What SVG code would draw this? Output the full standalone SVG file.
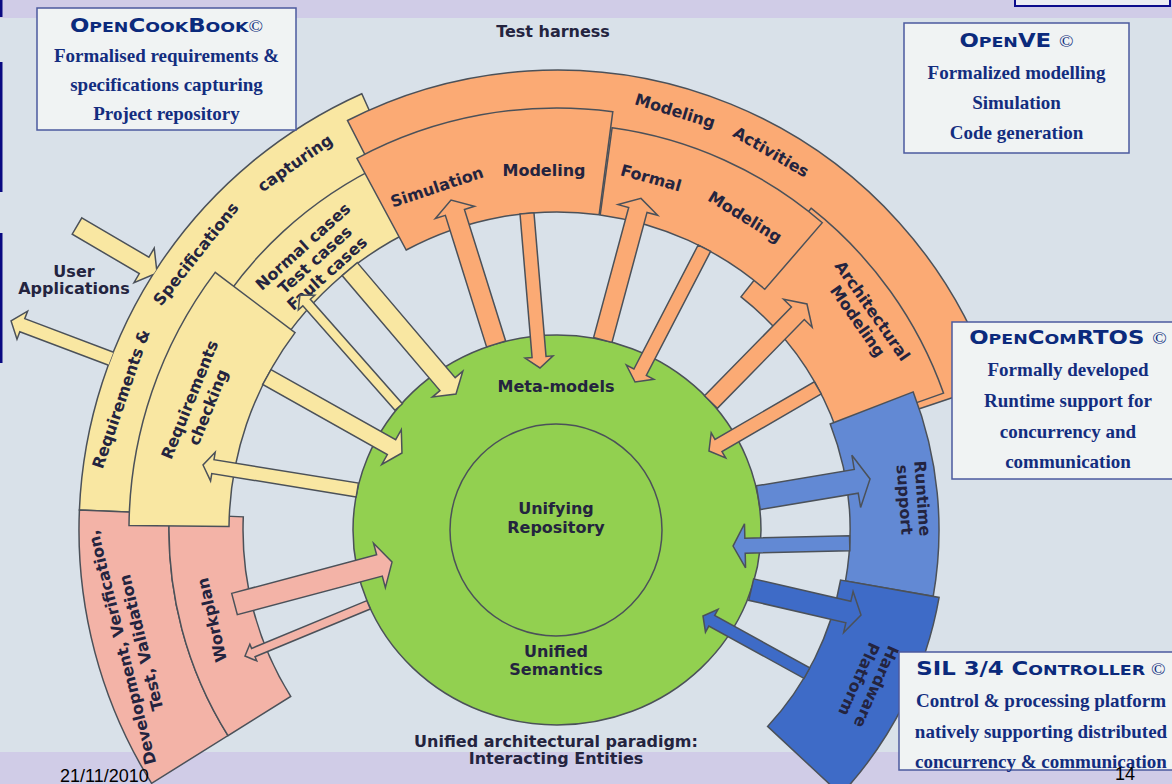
<svg xmlns="http://www.w3.org/2000/svg" width="1172" height="784" viewBox="0 0 1172 784">
<defs>
<style>
.ring{stroke:#4B5159;stroke-width:1.5;stroke-linejoin:miter}
.y{fill:#F9E7A2}.o{fill:#FBAA74}.p{fill:#F3B3A7}.b1{fill:#6289D4}.b2{fill:#3E6BC7}
.lbl{font-family:"DejaVu Sans",Verdana,sans-serif;font-weight:bold;font-size:16px;fill:#24243F;text-anchor:middle}
.arr{stroke:#4B5159;stroke-width:1.5;stroke-linejoin:miter}
.box{fill:#F0F3F3;stroke:#4B5A9E;stroke-width:1.5}
.ttl{font-family:"DejaVu Sans",Verdana,sans-serif;font-weight:bold;fill:#0B2A7C;text-anchor:middle}
.cp{font-family:"Liberation Serif",serif;font-weight:normal}
.bt{font-family:"Liberation Serif","Times New Roman",serif;font-weight:bold;font-size:19px;fill:#132D7F;text-anchor:middle}
.ft{font-family:"Liberation Sans",Arial,sans-serif;font-size:18px;fill:#000}
</style>
<clipPath id="outside-ring">
<path clip-rule="evenodd" d="M0,0H1172V784H0Z M79,530a478,478 0 1,0 956,0a478,478 0 1,0 -956,0Z"/>
</clipPath>
</defs>

<!-- slide background -->
<rect width="1172" height="784" fill="#D9E1E9"/>
<rect width="1172" height="18" fill="#D0CCE7"/>
<rect y="752" width="1172" height="32" fill="#D0CCE7"/>
<rect x="0" y="0" width="2.5" height="17" fill="#0A0A82"/>
<rect x="0" y="62" width="2.5" height="130" fill="#0A0A82"/>
<rect x="0" y="233" width="2.5" height="130" fill="#0A0A82"/>
<rect x="1015" y="-8" width="155" height="14" fill="#ECEEF3" stroke="#0C0C8C" stroke-width="2"/>

<!-- ring segments -->
<g id="req-spec-capturing">
<path class="ring y" d="M79.4,510 A478,478 0 0 1 361.8,93.7 L418.2,219.6 A340,340 0 0 0 217.3,515.8 Z"/>
<text class="lbl" transform="translate(121,399) rotate(-71)" y="5.5">Requirements &amp;</text>
<text class="lbl" transform="translate(196,254) rotate(-51.5)" y="5.5">Specifications</text>
<text class="lbl" transform="translate(295,163) rotate(-35)" y="5.5">capturing</text>
</g>
<g id="dev-verification">
<path class="ring p" d="M151.6,783.3 A478,478 0 0 1 79.4,510 L169.3,513.75 A388,388 0 0 0 228,735.6 Z"/>
<text class="lbl" transform="translate(131.5,645) rotate(-104)"><tspan x="0" y="-4.5">Development, Verification,</tspan><tspan x="0" y="15.5">Test, Validation</tspan></text>
</g>
<g id="workplan">
<path class="ring p" d="M228,735.6 A388,388 0 0 1 169.3,513.75 L243.3,516.85 A314,314 0 0 0 290.7,696.4 Z"/>
<text class="lbl" transform="translate(212,620) rotate(-103)" y="5.5">Workplan</text>
</g>
<g id="test-cases">
<path class="ring y" d="M206.3,327.5 A405,405 0 0 1 385.8,162.9 L416.3,228.2 A333,333 0 0 0 268.6,363.5 Z"/>
<text class="lbl" transform="translate(315,260) rotate(-42)"><tspan x="0" y="-12.5">Normal cases</tspan><tspan x="0" y="5.5">Test cases</tspan><tspan x="0" y="23.5">Fault cases</tspan></text>
</g>
<g id="req-checking">
<path class="ring y" d="M129,525.5 A428,428 0 0 1 215.2,272.4 L295.05,332.6 A328,328 0 0 0 229,526.6 Z"/>
<text class="lbl" transform="translate(199,403.5) rotate(-68)"><tspan x="0" y="-4.5">Requirements</tspan><tspan x="0" y="15.5">checking</tspan></text>
</g>
<g id="modeling-activities">
<path class="ring o" d="M347.5,120.5 A460,460 0 0 1 993.2,384 L860.5,428.5 A320,320 0 0 0 411.2,245.1 Z"/>
<text class="lbl" transform="translate(675,111) rotate(17)" y="5.5">Modeling</text>
<text class="lbl" transform="translate(771,152) rotate(30)" y="5.5">Activities</text>
</g>
<g id="architectural-modeling">
<path class="ring o" d="M811.1,208.2 A410,410 0 0 1 943.5,393.1 L837,430.9 A297,297 0 0 0 741,296.9 Z"/>
<text class="lbl" transform="translate(865,316) rotate(55)"><tspan x="0" y="-3.5">Architectural</tspan><tspan x="0" y="14.5">Modeling</tspan></text>
</g>
<g id="simulation-modeling">
<path class="ring o" d="M356.9,158.4 A422,422 0 0 1 612.8,111.7 L599.1,214.8 A318,318 0 0 0 406.2,250 Z"/>
<text class="lbl" transform="translate(437,187) rotate(-18.5)" y="5.5">Simulation</text>
<text class="lbl" transform="translate(544,170)" y="5.5">Modeling</text>
</g>
<g id="formal-modeling">
<path class="ring o" d="M612.1,127.8 A406,406 0 0 1 822.3,222.7 L764.8,289.3 A318,318 0 0 0 600.2,214.9 Z"/>
<text class="lbl" transform="translate(651,178) rotate(15.5)" y="5.5">Formal</text>
<text class="lbl" transform="translate(745,217) rotate(31.5)" y="5.5">Modeling</text>
</g>
<g id="runtime-support">
<path class="ring b1" d="M913.2,391.9 A382,382 0 0 1 933.2,596.3 L845.5,580.9 A293,293 0 0 0 830.2,424 Z"/>
<text class="lbl" transform="translate(913.5,499) rotate(86)"><tspan x="0" y="-3.5">Runtime</tspan><tspan x="0" y="14.5">support</tspan></text>
</g>
<g id="hardware-platform">
<path class="ring b2" d="M939.1,597.4 A388,388 0 0 1 840.8,794.6 L767.6,726.4 A288,288 0 0 0 840.6,580 Z"/>
<text class="lbl" transform="translate(867.5,683) rotate(114)"><tspan x="0" y="-4">Hardware</tspan><tspan x="0" y="15">Platform</tspan></text>
</g>

<!-- central repository -->
<g id="repository">
<ellipse cx="557" cy="530" rx="204" ry="195" fill="#92D050" stroke="#4B5159" stroke-width="1.5"/>
<circle cx="556" cy="530" r="106" fill="none" stroke="#4B5159" stroke-width="1.5"/>
<text class="lbl" x="556" y="392">Meta-models</text>
<text class="lbl" x="556" y="514">Unifying</text>
<text class="lbl" x="556" y="533">Repository</text>
<text class="lbl" x="556" y="657">Unified</text>
<text class="lbl" x="556" y="675">Semantics</text>
</g>

<!-- block arrows -->
<g id="connectors" class="arr">
<g clip-path="url(#outside-ring)">
<path class="y" transform="translate(77,226) rotate(30.4)" d="M0,-9.5H77.8V-20L92.8,0L77.8,20V9.5H0Z"/>
<path class="y" transform="translate(125,364) rotate(200.7)" d="M0,-7H109.8V-15L121.8,0L109.8,15V7H0Z"/>
</g>
<path class="o" transform="translate(496.1,343.9) rotate(-107.4)" d="M0,-10H137.8V-20.5L150.8,0L137.8,20.5V10H0Z"/>
<path class="o" transform="translate(527,213.4) rotate(85.2)" d="M0,-7H144.1V-14L155.1,0L144.1,14V7H0Z"/>
<path class="o" transform="translate(602.8,339.9) rotate(-74.9)" d="M0,-9.5H134.6V-20.5L146.6,0L134.6,20.5V9.5H0Z"/>
<path class="o" transform="translate(704.4,248.2) rotate(117.4)" d="M0,-7H139.7V-15.5L150.7,0L139.7,15.5V7H0Z"/>
<path class="o" transform="translate(710.9,402.1) rotate(-45.6)" d="M0,-9H124.3V-20L137.3,0L124.3,20V9H0Z"/>
<path class="o" transform="translate(817.8,387.9) rotate(149.9)" d="M0,-7H114.8V-14.5L125.8,0L114.8,14.5V7H0Z"/>
<path class="b1" transform="translate(758.3,497.7) rotate(-9.5)" d="M0,-12H99.3V-26.5L113.3,0L99.3,26.5V12H0Z"/>
<path class="b1" transform="translate(849.7,543.2) rotate(178.6)" d="M0,-7.5H104.7V-22L116.7,0L104.7,22V7.5H0Z"/>
<path class="b2" transform="translate(751.2,589.6) rotate(13)" d="M0,-11H99.7V-21L112.7,0L99.7,21V11H0Z"/>
<path class="b2" transform="translate(806.9,673.1) rotate(208.8)" d="M0,-6H108.6V-13L118.6,0L108.6,13V6H0Z"/>
<path class="y" transform="translate(349.7,269.1) rotate(49.6)" d="M0,-10H151V-20L164,0L151,20V10H0Z"/>
<path class="y" transform="translate(398.7,407) rotate(228.6)" d="M0,-5H139.3V-11L149.3,0L139.3,11V5H0Z"/>
<path class="y" transform="translate(266.8,377.1) rotate(29.3)" d="M0,-8.5H143V-20L155,0L143,20V8.5H0Z"/>
<path class="y" transform="translate(357.3,490) rotate(189.2)" d="M0,-7H146.3V-14.5L156.3,0L146.3,14.5V7H0Z"/>
<path class="p" transform="translate(234.5,604) rotate(-14.9)" d="M0,-11H150V-23L163,0L150,23V11H0Z"/>
<path class="p" transform="translate(368.6,604.8) rotate(157.5)" d="M0,-4.5H124.8V-9L133.8,0L124.8,9V4.5H0Z"/>
</g>

<!-- free labels -->
<g id="labels">
<text class="lbl" x="553" y="37">Test harness</text>
<text class="lbl" x="74" y="277">User</text>
<text class="lbl" x="74" y="294">Applications</text>
<text class="lbl" x="556" y="747">Unified architectural paradigm:</text>
<text class="lbl" x="556" y="764">Interacting Entities</text>
</g>

<!-- product boxes -->
<g id="opencookbook">
<rect class="box" x="37" y="8" width="259" height="122"/>
<text class="ttl" transform="translate(166.5,32.3) scale(1.2,1)"><tspan font-size="19">O</tspan><tspan font-size="14.5">PEN</tspan><tspan font-size="19">C</tspan><tspan font-size="14.5">OOK</tspan><tspan font-size="19">B</tspan><tspan font-size="14.5">OOK</tspan><tspan class="cp" font-size="16">©</tspan></text>
<text class="bt" x="166.5" y="61.7">Formalised requirements &amp;</text>
<text class="bt" x="166.5" y="90.7">specifications capturing</text>
<text class="bt" x="166.5" y="120">Project repository</text>
</g>
<g id="openve">
<rect class="box" x="904" y="23" width="225" height="130"/>
<text class="ttl" transform="translate(1016.5,46.7) scale(1.2,1)"><tspan font-size="19">O</tspan><tspan font-size="14.5">PEN</tspan><tspan font-size="19">VE </tspan><tspan class="cp" font-size="16">©</tspan></text>
<text class="bt" x="1016.5" y="79">Formalized modelling</text>
<text class="bt" x="1016.5" y="109.3">Simulation</text>
<text class="bt" x="1016.5" y="139.3">Code generation</text>
</g>
<g id="opencomrtos">
<rect class="box" x="952" y="322" width="230" height="157"/>
<text class="ttl" transform="translate(1068,344.3) scale(1.2,1)"><tspan font-size="19">O</tspan><tspan font-size="14.5">PEN</tspan><tspan font-size="19">C</tspan><tspan font-size="14.5">OM</tspan><tspan font-size="19">RTOS </tspan><tspan class="cp" font-size="16">©</tspan></text>
<text class="bt" x="1068" y="376">Formally developed</text>
<text class="bt" x="1068" y="406.7">Runtime support for</text>
<text class="bt" x="1068" y="437.7">concurrency and</text>
<text class="bt" x="1068" y="468.3">communication</text>
</g>
<g id="sil-controller">
<rect class="box" x="899" y="652" width="285" height="118"/>
<text class="ttl" transform="translate(1041,675) scale(1.2,1)"><tspan font-size="19">SIL 3/4 C</tspan><tspan font-size="14.5">ONTROLLER </tspan><tspan class="cp" font-size="16">©</tspan></text>
<text class="bt" x="1041" y="706.7">Control &amp; processing platform</text>
<text class="bt" x="1041" y="737.7">natively supporting distributed</text>
<text class="bt" x="1041" y="767.7">concurrency &amp; communication</text>
</g>

<!-- footer -->
<text class="ft" x="60" y="782">21/11/2010</text>
<text class="ft" x="1115" y="780">14</text>
</svg>
